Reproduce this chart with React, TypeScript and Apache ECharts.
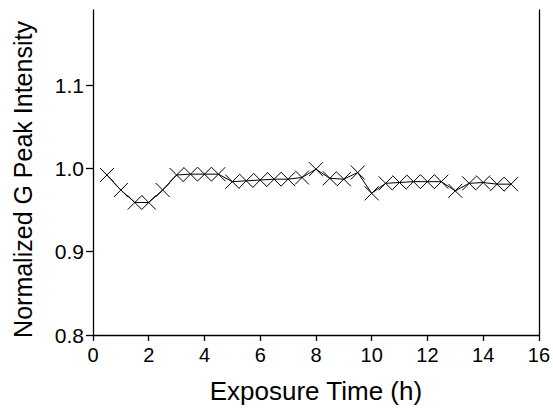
import React, { useEffect, useRef } from "react";
import * as echarts from "echarts";

const times = [0.5, 1.0, 1.5, 2.0, 2.5, 3.0, 3.5, 4.0, 4.5, 5.0, 5.5, 6.0, 6.5, 7.0, 7.5, 8.0, 8.5, 9.0, 9.5, 10.0, 10.5, 11.0, 11.5, 12.0, 12.5, 13.0, 13.5, 14.0, 14.5, 15.0];
const intensity = [0.992, 0.974, 0.959, 0.959, 0.974, 0.992, 0.993, 0.993, 0.993, 0.984, 0.985, 0.986, 0.987, 0.987, 0.989, 0.999, 0.988, 0.987, 0.995, 0.970, 0.982, 0.983, 0.984, 0.984, 0.984, 0.973, 0.982, 0.983, 0.981, 0.981];
const yTicks = [0.8, 0.9, 1.0, 1.1];
const xTitle = "Exposure Time (h)";
const yTitle = "Normalized G Peak Intensity";

const FONT = "'Liberation Sans', Arial, Helvetica, sans-serif";

export default function App() {
  const ref = useRef<HTMLDivElement>(null);
  useEffect(() => {
    if (!ref.current) return;
    const chart = echarts.init(ref.current, null, { renderer: "svg" });
    const axisLineStyle = { color: "#000", width: 1.3 };
    chart.setOption({
      animation: false,
      backgroundColor: "#fff",
      grid: { left: 93, right: 13, top: 10, bottom: 72, containLabel: false },
      xAxis: {
        type: "value",
        min: 0,
        max: 16,
        interval: 2,
        name: xTitle,
        nameLocation: "middle",
        nameGap: 43,
        nameTextStyle: { fontFamily: FONT, fontSize: 26, color: "#000" },
        axisLine: { show: true, onZero: false, lineStyle: axisLineStyle },
        axisTick: { show: true, length: 6, lineStyle: axisLineStyle },
        axisLabel: { fontFamily: FONT, fontSize: 20, color: "#000", margin: 10 },
        splitLine: { show: false },
      },
      yAxis: [
        {
          type: "value",
          min: 0.8,
          max: 1.19,
          interval: 0.1,
          name: yTitle,
          nameLocation: "middle",
          nameGap: 58,
          nameTextStyle: { fontFamily: FONT, fontSize: 25, color: "#000", padding: [0, 14, 0, 0] },
          axisLine: { show: true, onZero: false, lineStyle: axisLineStyle },
          axisTick: { show: true, length: 7, lineStyle: axisLineStyle, customValues: yTicks },
          axisLabel: {
            fontFamily: FONT,
            fontSize: 21,
            color: "#000",
            margin: 9,
            customValues: yTicks,
            formatter: (v: number) => v.toFixed(1),
          },
          splitLine: { show: false },
        },
        {
          type: "value",
          position: "right",
          min: 0.8,
          max: 1.19,
          axisLine: { show: true, onZero: false, lineStyle: axisLineStyle },
          axisTick: { show: false },
          axisLabel: { show: false },
          splitLine: { show: false },
        },
      ],
      series: [
        {
          type: "line",
          yAxisIndex: 0,
          data: times.map((t, i) => [t, intensity[i]]),
          symbol: "path://M0,0L10,10M10,0L0,10",
          symbolSize: 14,
          showSymbol: true,
          lineStyle: { color: "#000", width: 1 },
          itemStyle: { color: "#000", borderColor: "#000", borderWidth: 1 },
        },
      ],
    });
    return () => chart.dispose();
  }, []);
  return <div ref={ref} style={{ position: "fixed", left: 0, top: 0, width: 553, height: 409 }} />;
}
